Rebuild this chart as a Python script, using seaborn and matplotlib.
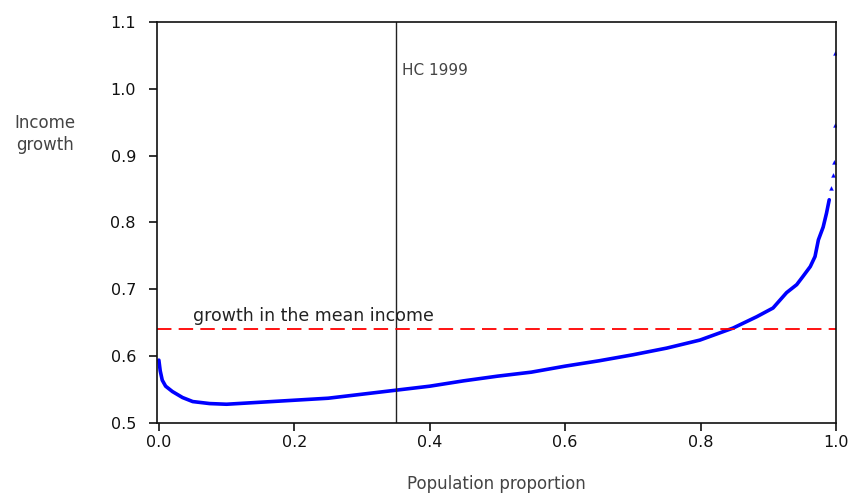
import matplotlib
matplotlib.use("Agg")
import matplotlib.pyplot as plt
import seaborn as sns
import pandas as pd

# Growth incidence curve
pop_share = [0.000, 0.002, 0.005, 0.010, 0.020, 0.035, 0.050, 0.075, 0.100, 0.150,
             0.200, 0.250, 0.300, 0.350, 0.400, 0.450, 0.500, 0.550, 0.600, 0.650,
             0.700, 0.750, 0.799, 0.848, 0.883, 0.907, 0.927, 0.942, 0.951, 0.962,
             0.969, 0.974, 0.981, 0.986, 0.990]
income_growth = [0.594, 0.578, 0.564, 0.555, 0.547, 0.538, 0.532, 0.529, 0.528, 0.531,
                 0.534, 0.537, 0.543, 0.549, 0.555, 0.563, 0.570, 0.576, 0.585, 0.593,
                 0.602, 0.612, 0.624, 0.642, 0.659, 0.672, 0.695, 0.707, 0.719, 0.734,
                 0.749, 0.774, 0.793, 0.814, 0.834]

# Sparse points in the top tail
tail_share = [0.993, 0.996, 0.997, 0.998, 0.999]
tail_growth = [0.852, 0.871, 0.891, 0.946, 1.054]

hc_1999 = 0.35
mean_growth = 0.64

df = pd.DataFrame({"p": pop_share, "g": income_growth})
df_tail = pd.DataFrame({"p": tail_share, "g": tail_growth})

sns.set_style("white")
plt.rcParams["font.family"] = ["DejaVu Sans"]

fig = plt.figure(figsize=(8.57, 4.97), dpi=100)
ax = fig.add_axes([0.183, 0.149, 0.7925, 0.8067])

sns.lineplot(data=df, x="p", y="g", color="#0000ff", linewidth=2.6, ax=ax)
sns.scatterplot(data=df_tail, x="p", y="g", color="#0000ff", marker="^", s=8,
                edgecolor="#0000ff", ax=ax)

ax.axvline(hc_1999, color="#222222", linewidth=1.0)
ax.axhline(mean_growth, color="#ff0000", linewidth=1.3, linestyle=(0, (8, 4)))

ax.text(hc_1999 + 0.009, 1.02, "HC 1999", fontsize=11, color="#444444")
ax.text(0.05, 0.652, "growth in the mean income", fontsize=12.5, color="#222222")

ax.set_xlim(-0.003, 1.0)
ax.set_ylim(0.5, 1.1)
ax.set_xticks([0.0, 0.2, 0.4, 0.6, 0.8, 1.0])
ax.set_yticks([0.5, 0.6, 0.7, 0.8, 0.9, 1.0, 1.1])
ax.set_xticklabels(["0.0", "0.2", "0.4", "0.6", "0.8", "1.0"])
ax.set_yticklabels(["0.5", "0.6", "0.7", "0.8", "0.9", "1.0", "1.1"])
ax.tick_params(axis="both", direction="out", length=6, width=1.2, labelsize=11.5,
               colors="#111111", pad=3, bottom=True, left=True, top=False, right=False)
ax.tick_params(axis="y", pad=9)

for side in ["left", "right", "top", "bottom"]:
    ax.spines[side].set_visible(True)
    ax.spines[side].set_color("#111111")
    ax.spines[side].set_linewidth(1.2)

ax.set_xlabel("Population proportion", fontsize=12, color="#444444", labelpad=18)
ax.set_ylabel("")
fig.text(0.052, 0.73, "Income\ngrowth", fontsize=12, color="#444444",
         ha="center", va="center", linespacing=1.3)

fig.savefig("out.png", dpi=100)
